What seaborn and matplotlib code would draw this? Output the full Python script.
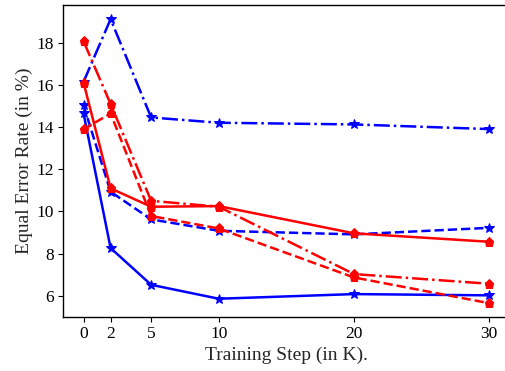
import matplotlib
matplotlib.use("Agg")
import matplotlib.pyplot as plt
import seaborn as sns
import pandas as pd

steps = [0, 2, 5, 10, 20, 30]
blue_solid = [14.64, 8.26, 6.52, 5.86, 6.08, 6.02]
blue_dashed = [15.02, 10.93, 9.62, 9.08, 8.91, 9.22]
blue_dashdot = [16.14, 19.11, 14.45, 14.20, 14.12, 13.90]
red_solid = [16.10, 11.09, 10.22, 10.25, 8.96, 8.56]
red_dashed = [13.89, 14.64, 9.78, 9.19, 6.87, 5.65]
red_dashdot = [18.06, 15.09, 10.50, 10.22, 7.03, 6.57]

series = [
    ("blue_solid", blue_solid, "blue", "-", "*"),
    ("blue_dashed", blue_dashed, "blue", "--", "*"),
    ("blue_dashdot", blue_dashdot, "blue", "-.", "*"),
    ("red_solid", red_solid, "red", "-", "p"),
    ("red_dashed", red_dashed, "red", "--", "p"),
    ("red_dashdot", red_dashdot, "red", "-.", "p"),
]

sns.set_style("ticks")
plt.rcParams['font.family'] = ['Liberation Serif', 'DejaVu Serif']
plt.rcParams['mathtext.fontset'] = 'stix'

fig = plt.figure(figsize=(5.05, 3.71), dpi=100)
ax = fig.add_axes([63.3 / 505, (371 - 317.3) / 371, (509.3 - 63.3) / 505, (317.3 - 5) / 371])

for name, vals, color, ls, mk in series:
    df = pd.DataFrame({"step": steps, "eer": vals})
    sns.lineplot(data=df, x="step", y="eer", ax=ax, color=color, linestyle=ls,
                 marker=mk, markersize=7 if mk == "*" else 6.5,
                 markeredgecolor=color, linewidth=1.8)

ax.set_xticks(steps)
ax.set_xticklabels([str(s) for s in steps])
ax.set_yticks([6, 8, 10, 12, 14, 16, 18])
ax.set_xlim(-1.5, 31.5)
ax.set_ylim(4.98, 19.78)
ax.set_xlabel("Training Step (in K).", fontsize=14, labelpad=3)
ax.set_ylabel("Equal Error Rate (in %)", fontsize=14, labelpad=3)
ax.tick_params(labelsize=12.5, direction="out", length=3.5, width=0.8, colors="black", pad=3)
for sp in ax.spines.values():
    sp.set_linewidth(1.0)
    sp.set_color("black")

fig.savefig("out.png", dpi=100)
